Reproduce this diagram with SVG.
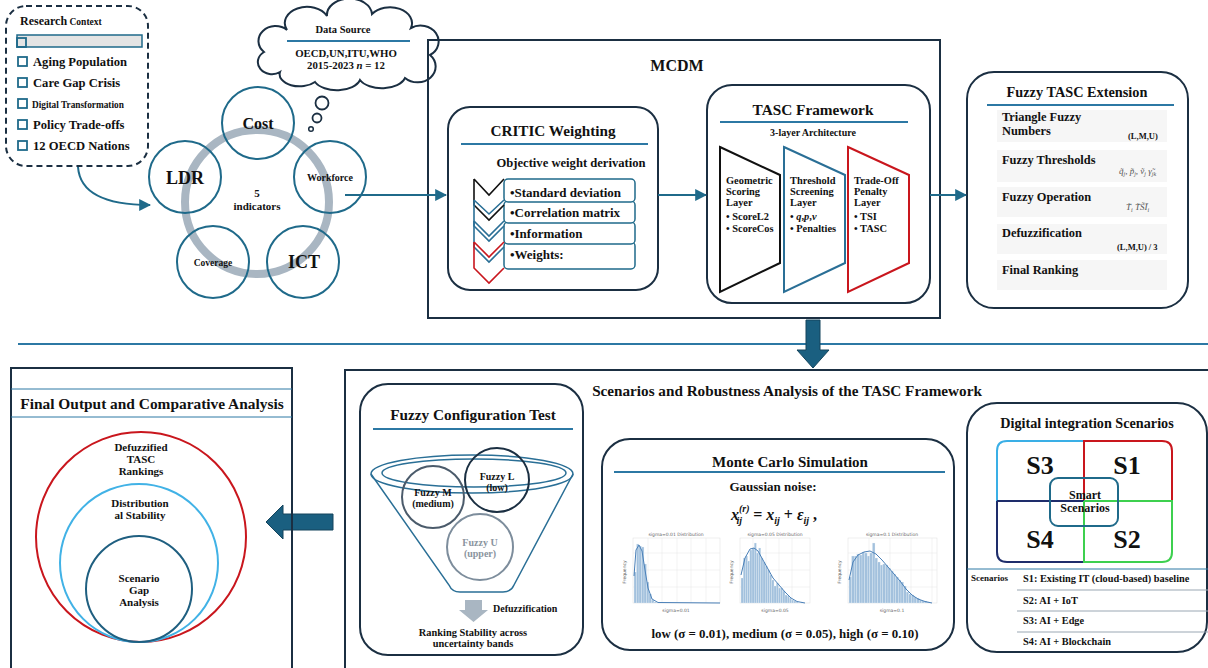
<svg xmlns="http://www.w3.org/2000/svg" width="1208" height="668" viewBox="0 0 1208 668">
<style>
.t{font-family:'Liberation Serif','Times New Roman',serif;font-weight:bold;fill:#111}
.c{text-anchor:middle}
.box{fill:none;stroke:#1b2f42;stroke-width:2}
.rbox{fill:#fff;stroke:#1b2f42;stroke-width:2}
.ul{stroke:#2c78a4;stroke-width:2}
.ind{fill:none;stroke:#1f6a8a;stroke-width:2}
.conn{fill:none;stroke:#1f6a8a;stroke-width:2}
.sq{fill:none;stroke:#1f6a8a;stroke-width:1.8}
.row{fill:#fff;stroke:#1f6a8a;stroke-width:1.5}
.bar{fill:#a3c1dd;stroke:#e8f0f8;stroke-width:0.3}
.kde{fill:none;stroke:#4a80b8;stroke-width:1}
.grid{stroke:#e6e6e6;stroke-width:0.5}
.tiny{font-family:'DejaVu Sans',sans-serif;font-size:4.5px;fill:#666}
.fbg{fill:#f6f6f6}
.sline{stroke:#9aa7b3;stroke-width:1}
</style>
<defs>
<marker id="arr" viewBox="0 0 10 10" refX="9" refY="5" markerWidth="6" markerHeight="6" orient="auto"><path d="M0,0 L10,5 L0,10 z" fill="#1f6a8a"/></marker>
</defs>

<!-- Research Context -->
<g id="research">
<rect x="6" y="6" width="142" height="160" rx="20" fill="#fff" stroke="#1b2f42" stroke-width="2" stroke-dasharray="6,4"/>
<text class="t" x="20" y="25"><tspan font-size="12">Research</tspan><tspan font-size="9.5"> Context</tspan></text>
<rect x="17" y="35" width="125" height="12" fill="#e4e4e4" stroke="#1f6a8a" stroke-width="1.5"/>
<rect x="17" y="38" width="9" height="9" class="sq"/>
<rect x="18" y="57" width="9" height="9" class="sq"/><text class="t" x="33" y="66" font-size="12.6">Aging Population</text>
<rect x="18" y="78" width="9" height="9" class="sq"/><text class="t" x="33" y="87" font-size="12.6">Care Gap Crisis</text>
<rect x="18" y="99" width="9" height="9" class="sq"/><text class="t" x="32" y="108" font-size="9.3">Digital Transformation</text>
<rect x="18" y="120" width="9" height="9" class="sq"/><text class="t" x="33" y="129" font-size="12.6">Policy Trade-offs</text>
<rect x="18" y="141" width="9" height="9" class="sq"/><text class="t" x="33" y="150" font-size="12.6">12 OECD Nations</text>
</g>

<!-- Data source cloud -->
<g id="datasource">
<path d="M280,72 A14,12 0 0 1 264,52 A16,14 0 0 1 287,30 A22,16 0 0 1 327,16 A22,16 0 0 1 372,14 A22,16 0 0 1 411,28 A16,14 0 0 1 430,55 A16,14 0 0 1 405,78 A24,14 0 0 1 360,80 A24,14 0 0 1 315,82 A20,12 0 0 1 280,72 Z" fill="#fff" stroke="#1b2f42" stroke-width="2"/>
<text class="t c" x="343" y="33" font-size="10.5">Data Source</text>
<line x1="287" y1="41" x2="410" y2="41" class="ul"/>
<text class="t c" x="346" y="57" font-size="10.8">OECD,UN,ITU,WHO</text>
<text class="t c" x="346" y="69" font-size="10.8">2015-2023 <tspan font-style="italic">n</tspan> = 12</text>
<circle cx="322" cy="103" r="6.5" fill="#fff" stroke="#1b2f42" stroke-width="1.8"/>
<circle cx="317" cy="118" r="4.5" fill="#fff" stroke="#1b2f42" stroke-width="1.8"/>
<circle cx="311" cy="129" r="2.3" fill="#fff" stroke="#1b2f42" stroke-width="1.5"/>
</g>

<!-- Indicators -->
<g id="indicators">
<circle cx="257" cy="202" r="72" fill="none" stroke="#a9b6c2" stroke-width="8"/>
<circle cx="258" cy="123" r="36" class="ind"/>
<circle cx="330" cy="177" r="36" class="ind"/>
<circle cx="185" cy="177" r="36" class="ind"/>
<circle cx="213" cy="262" r="36" class="ind"/>
<circle cx="303" cy="262" r="36" class="ind"/>
<text class="t c" x="258" y="129" font-size="16">Cost</text>
<text class="t c" x="330" y="181" font-size="10">Workforce</text>
<text class="t c" x="185" y="184" font-size="18">LDR</text>
<text class="t c" x="213" y="266" font-size="9.5">Coverage</text>
<text class="t c" x="304" y="268" font-size="18">ICT</text>
<text class="t c" x="257" y="197" font-size="11">5</text>
<text class="t c" x="257" y="210" font-size="11">indicators</text>
</g>

<!-- MCDM container -->
<g id="mcdm">
<rect x="428" y="40" width="512" height="278" class="box"/>
<text class="t c" x="677" y="71" font-size="16">MCDM</text>
</g>

<!-- CRITIC -->
<g id="critic">
<rect x="448" y="107" width="210" height="183" rx="22" class="rbox"/>
<text class="t c" x="553" y="136" font-size="15.2">CRITIC Weighting</text>
<line x1="461" y1="144" x2="648" y2="144" class="ul"/>
<text class="t c" x="571" y="167" font-size="12.6">Objective weight derivation</text>
<rect x="504" y="242" width="131" height="27" rx="4" class="row"/>
<rect x="504" y="222" width="131" height="22" rx="4" class="row"/>
<rect x="504" y="201" width="131" height="22" rx="4" class="row"/>
<rect x="504" y="179" width="131" height="23" rx="4" class="row"/>
<text class="t" x="510" y="197" font-size="13">•Standard deviation</text>
<text class="t" x="510" y="217" font-size="13">•Correlation matrix</text>
<text class="t" x="510" y="238" font-size="13">•Information</text>
<text class="t" x="510" y="259" font-size="13">•Weights:</text>
<path d="M474,179 L489,195 L504,179 M474,179 V205 L489,220 L504,205" fill="none" stroke="#111" stroke-width="1.6"/>
<path d="M474,200 L489,214 L504,200 M474,200 V226 L489,241 L504,226" fill="none" stroke="#2a6f96" stroke-width="1.6"/>
<path d="M474,221 L489,236 L504,221 M474,221 V247 L489,262 L504,247" fill="none" stroke="#2a6f96" stroke-width="1.6"/>
<path d="M474,242 L489,257 L504,242 M474,242 V268 L489,283 L504,268" fill="none" stroke="#c9161d" stroke-width="1.6"/>
</g>

<!-- TASC -->
<g id="tasc">
<rect x="707" y="85" width="223" height="218" rx="25" class="rbox"/>
<text class="t c" x="813" y="115" font-size="15.3">TASC Framework</text>
<line x1="720" y1="122" x2="908" y2="122" class="ul"/>
<text class="t c" x="813" y="136" font-size="10">3-layer Architecture</text>
<polygon points="720,147 780,175 780,263 720,292" fill="none" stroke="#111" stroke-width="2"/>
<polygon points="784,147 845,175 845,263 784,292" fill="none" stroke="#2a6f96" stroke-width="2"/>
<polygon points="848,147 909,175 909,263 848,292" fill="none" stroke="#c9161d" stroke-width="2"/>
<g class="t" font-size="10.4">
<text x="726" y="184">Geometric</text><text x="726" y="195">Scoring</text><text x="726" y="206">Layer</text>
<text x="726" y="220">• ScoreL2</text><text x="726" y="232">• ScoreCos</text>
<text x="790" y="184">Threshold</text><text x="790" y="195">Screening</text><text x="790" y="206">Layer</text>
<text x="790" y="220">• <tspan font-style="italic">q</tspan>,<tspan font-style="italic">p</tspan>,<tspan font-style="italic">v</tspan></text><text x="790" y="232">• Penalties</text>
<text x="854" y="184">Trade-Off</text><text x="854" y="195">Penalty</text><text x="854" y="206">Layer</text>
<text x="854" y="220">• TSI</text><text x="854" y="232">• TASC</text>
</g>
</g>

<!-- Fuzzy TASC Extension -->
<g id="fuzzytasc">
<rect x="967" y="72" width="221" height="236" rx="27" class="rbox"/>
<text class="t c" x="1077" y="97" font-size="14.3">Fuzzy TASC Extension</text>
<line x1="987" y1="105" x2="1174" y2="105" class="ul"/>
<rect x="997" y="110" width="170" height="32" class="fbg"/>
<rect x="997" y="150" width="170" height="32" class="fbg"/>
<rect x="997" y="187" width="170" height="30" class="fbg"/>
<rect x="997" y="224" width="170" height="30" class="fbg"/>
<rect x="997" y="260" width="170" height="30" class="fbg"/>
<g class="t" font-size="12.4">
<text x="1002" y="121">Triangle Fuzzy</text>
<text x="1002" y="135">Numbers</text>
<text x="1002" y="164">Fuzzy Thresholds</text>
<text x="1002" y="201">Fuzzy Operation</text>
<text x="1002" y="237">Defuzzification</text>
<text x="1002" y="274">Final Ranking</text>
</g>
<text class="t" x="1128" y="139" font-size="8.5">(L,M,U)</text>
<text class="t" x="1117" y="250" font-size="8.5">(L,M,U) / 3</text>
<text x="1119" y="174" font-family="'Liberation Serif',serif" font-style="italic" font-size="9" fill="#555">q̃<tspan font-size="6" dy="2">j</tspan><tspan dy="-2">, p̃</tspan><tspan font-size="6" dy="2">j</tspan><tspan dy="-2">, ṽ</tspan><tspan font-size="6" dy="2">j</tspan><tspan dy="-2">  γ̃</tspan><tspan font-size="6" dy="2">jk</tspan></text>
<text x="1126" y="210" font-family="'Liberation Serif',serif" font-style="italic" font-size="9" fill="#555">T̃<tspan font-size="6" dy="2">i</tspan><tspan dy="-2">   T̃S̃Ĩ</tspan><tspan font-size="6" dy="2">i</tspan></text>
</g>

<!-- Top connectors -->
<g id="connectors">
<path d="M78,167 C80,195 110,205 150,205" class="conn" marker-end="url(#arr)"/>
<line x1="345" y1="195" x2="446" y2="195" class="conn" marker-end="url(#arr)"/>
<line x1="658" y1="195" x2="706" y2="195" class="conn" marker-end="url(#arr)"/>
<line x1="930" y1="195" x2="966" y2="195" class="conn" marker-end="url(#arr)"/>
<line x1="18" y1="344" x2="1208" y2="344" stroke="#2c78a4" stroke-width="2"/>
<path d="M806,320 H820 V350 H829 L813,368 L797,350 H806 Z" fill="#1a5f80" stroke="#14445c" stroke-width="1"/>
<path d="M266,522 L283,505 V514 H333 V530 H283 V539 Z" fill="#1a5f80" stroke="#14445c" stroke-width="1"/>
</g>

<!-- Final Output -->
<g id="finaloutput">
<rect x="11" y="368" width="281" height="310" class="box"/>
<line x1="11" y1="389" x2="292" y2="389" stroke="#2c78a4" stroke-width="1"/>
<line x1="11" y1="417" x2="292" y2="417" stroke="#2c78a4" stroke-width="1"/>
<text class="t c" x="152" y="409" font-size="15.4">Final Output and Comparative Analysis</text>
<circle cx="141" cy="537" r="105" fill="none" stroke="#c9161d" stroke-width="2"/>
<circle cx="139" cy="563" r="79" fill="none" stroke="#41b2e6" stroke-width="2"/>
<circle cx="139" cy="589" r="53" fill="none" stroke="#1f5f80" stroke-width="2"/>
<g class="t c" font-size="11">
<text x="141" y="451">Defuzzified</text><text x="141" y="463">TASC</text><text x="141" y="475">Rankings</text>
<text x="140" y="507">Distribution</text><text x="140" y="519">al Stability</text>
<text x="139" y="582">Scenario</text><text x="139" y="594">Gap</text><text x="139" y="606">Analysis</text>
</g>
</g>

<!-- Scenarios container -->
<g id="scenarios">
<rect x="345" y="370" width="875" height="310" class="box"/>
<text class="t c" x="787" y="396" font-size="15.2">Scenarios and Robustness Analysis of the TASC Framework</text>
</g>

<!-- Fuzzy Configuration Test -->
<g id="fuzzyconfig">
<rect x="360" y="384" width="223" height="271" rx="28" class="rbox"/>
<text class="t c" x="473" y="420" font-size="15.3">Fuzzy Configuration Test</text>
<line x1="373" y1="429" x2="573" y2="429" class="ul"/>
<path d="M371,474 L449,585 Q452,592 460,592 L503,592 Q511,592 514,585 L573,474" fill="none" stroke="#2a6f96" stroke-width="1.5"/>
<ellipse cx="472" cy="474" rx="101" ry="19" fill="none" stroke="#2a6f96" stroke-width="1.5"/>
<ellipse cx="474" cy="473" rx="92" ry="14" fill="none" stroke="#2a6f96" stroke-width="1.5"/>
<circle cx="433" cy="497" r="31" fill="none" stroke="#4b5b6b" stroke-width="2"/>
<circle cx="497" cy="480" r="32" fill="none" stroke="#1b2f42" stroke-width="2"/>
<circle cx="480" cy="547" r="33" fill="none" stroke="#7d8d9c" stroke-width="2"/>
<g class="t c" font-size="10">
<text x="433" y="496">Fuzzy M</text><text x="433" y="507">(medium)</text>
<text x="497" y="480">Fuzzy L</text><text x="497" y="491">(low)</text>
<text x="480" y="546" fill="#8a949e">Fuzzy U</text><text x="480" y="557" fill="#8a949e">(upper)</text>
</g>
<path d="M465,600 H482 V610 H488 L473.5,622 L459,610 H465 Z" fill="#a9b6c2"/>
<text class="t" x="493" y="612" font-size="10">Defuzzification</text>
<text class="t c" x="473" y="636" font-size="10.4">Ranking Stability across</text>
<text class="t c" x="473" y="647" font-size="10.4">uncertainty bands</text>
</g>

<!-- Monte Carlo -->
<g id="montecarlo">
<rect x="602" y="439" width="352" height="211" rx="28" class="rbox"/>
<text class="t c" x="790" y="467" font-size="15">Monte Carlo Simulation</text>
<line x1="614" y1="472" x2="945" y2="472" class="ul"/>
<text class="t c" x="773" y="491" font-size="13">Gaussian noise:</text>
<text class="t" x="731" y="520" font-size="16" font-style="italic">x<tspan font-size="10" dy="-8">(r)</tspan><tspan font-size="10" dx="-13" dy="12">ij</tspan><tspan dx="7" dy="-4" font-style="normal"> = </tspan>x<tspan font-size="10" dy="4">ij</tspan><tspan dy="-4" font-style="normal"> + </tspan>ε<tspan font-size="10" dy="4">ij</tspan><tspan dy="-4" font-style="normal"> ,</tspan></text>

<!-- chart 1 -->
<g>
<rect x="633" y="538" width="87" height="65" fill="#fff" stroke="#ddd" stroke-width="0.5"/>
<line x1="633" y1="587" x2="720" y2="587" class="grid"/><line x1="633" y1="570" x2="720" y2="570" class="grid"/><line x1="633" y1="553" x2="720" y2="553" class="grid"/>
<line x1="648" y1="538" x2="648" y2="603" class="grid"/><line x1="662" y1="538" x2="662" y2="603" class="grid"/><line x1="677" y1="538" x2="677" y2="603" class="grid"/><line x1="691" y1="538" x2="691" y2="603" class="grid"/><line x1="706" y1="538" x2="706" y2="603" class="grid"/>
<rect class="bar" x="634" y="572" width="2.5" height="31"/><rect class="bar" x="636.5" y="544" width="2.5" height="59"/><rect class="bar" x="639" y="546" width="2.5" height="57"/><rect class="bar" x="641.5" y="547" width="2.5" height="56"/><rect class="bar" x="644" y="564" width="2.5" height="39"/><rect class="bar" x="646.5" y="582" width="2.5" height="21"/><rect class="bar" x="649" y="594" width="2.5" height="9"/><rect class="bar" x="651.5" y="600" width="2.5" height="3"/><rect class="bar" x="654" y="602" width="2.5" height="1"/>
<polyline class="kde" points="634,576 636,550 639,545 642,551 645,570 648,588 652,599 658,602.5 720,603"/>
<text class="tiny c" x="676" y="536">sigma=0.01 Distribution</text>
<text class="tiny c" x="676" y="612">sigma=0.01</text>
<text class="tiny c" transform="translate(626,572) rotate(-90)">Frequency</text>
</g>
<!-- chart 2 -->
<g>
<rect x="740" y="538" width="70" height="65" fill="#fff" stroke="#ddd" stroke-width="0.5"/>
<line x1="740" y1="587" x2="810" y2="587" class="grid"/><line x1="740" y1="570" x2="810" y2="570" class="grid"/><line x1="740" y1="553" x2="810" y2="553" class="grid"/>
<line x1="753" y1="538" x2="753" y2="603" class="grid"/><line x1="766" y1="538" x2="766" y2="603" class="grid"/><line x1="779" y1="538" x2="779" y2="603" class="grid"/><line x1="792" y1="538" x2="792" y2="603" class="grid"/>
<rect class="bar" x="741" y="578" width="2.2" height="25"/><rect class="bar" x="743.2" y="558" width="2.2" height="45"/><rect class="bar" x="745.4" y="556" width="2.2" height="47"/><rect class="bar" x="747.6" y="561" width="2.2" height="42"/><rect class="bar" x="749.8" y="550" width="2.2" height="53"/><rect class="bar" x="752" y="548" width="2.2" height="55"/><rect class="bar" x="754.2" y="543" width="2.2" height="60"/><rect class="bar" x="756.4" y="553" width="2.2" height="50"/><rect class="bar" x="758.6" y="548" width="2.2" height="55"/><rect class="bar" x="760.8" y="558" width="2.2" height="45"/><rect class="bar" x="763" y="562" width="2.2" height="41"/><rect class="bar" x="765.2" y="566" width="2.2" height="37"/><rect class="bar" x="767.4" y="570" width="2.2" height="33"/><rect class="bar" x="769.6" y="575" width="2.2" height="28"/><rect class="bar" x="771.8" y="580" width="2.2" height="23"/><rect class="bar" x="774" y="586" width="2.2" height="17"/><rect class="bar" x="776.2" y="583" width="2.2" height="20"/><rect class="bar" x="778.4" y="588" width="2.2" height="15"/><rect class="bar" x="780.6" y="588" width="2.2" height="15"/><rect class="bar" x="782.8" y="591" width="2.2" height="12"/><rect class="bar" x="785" y="595" width="2.2" height="8"/><rect class="bar" x="787.2" y="596" width="2.2" height="7"/><rect class="bar" x="789.4" y="598" width="2.2" height="5"/><rect class="bar" x="791.6" y="600" width="2.2" height="3"/><rect class="bar" x="793.8" y="601" width="2.2" height="2"/><rect class="bar" x="796" y="602" width="2.2" height="1"/><rect class="bar" x="801" y="602" width="2.2" height="1"/>
<polyline class="kde" points="741,575 745,558 750,549 754,548 758,551 763,560 768,569 773,578 779,585 785,592 791,598 797,601.5 805,603"/>
<text class="tiny c" x="775" y="536">sigma=0.05 Distribution</text>
<text class="tiny c" x="775" y="612">sigma=0.05</text>
<text class="tiny c" transform="translate(733,572) rotate(-90)">Frequency</text>
</g>
<!-- chart 3 -->
<g>
<rect x="848" y="538" width="89" height="65" fill="#fff" stroke="#ddd" stroke-width="0.5"/>
<line x1="848" y1="587" x2="937" y2="587" class="grid"/><line x1="848" y1="570" x2="937" y2="570" class="grid"/><line x1="848" y1="553" x2="937" y2="553" class="grid"/>
<line x1="869" y1="538" x2="869" y2="603" class="grid"/><line x1="890" y1="538" x2="890" y2="603" class="grid"/><line x1="911" y1="538" x2="911" y2="603" class="grid"/><line x1="932" y1="538" x2="932" y2="603" class="grid"/>
<rect class="bar" x="849" y="577" width="2.6" height="26"/><rect class="bar" x="851.6" y="556" width="2.6" height="47"/><rect class="bar" x="854.2" y="556" width="2.6" height="47"/><rect class="bar" x="856.8" y="554" width="2.6" height="49"/><rect class="bar" x="859.4" y="555" width="2.6" height="48"/><rect class="bar" x="862" y="552" width="2.6" height="51"/><rect class="bar" x="864.6" y="553" width="2.6" height="50"/><rect class="bar" x="867.2" y="556" width="2.6" height="47"/><rect class="bar" x="869.8" y="553" width="2.6" height="50"/><rect class="bar" x="872.4" y="543" width="2.6" height="60"/><rect class="bar" x="875" y="558" width="2.6" height="45"/><rect class="bar" x="877.6" y="562" width="2.6" height="41"/><rect class="bar" x="880.2" y="565" width="2.6" height="38"/><rect class="bar" x="882.8" y="564" width="2.6" height="39"/><rect class="bar" x="885.4" y="565" width="2.6" height="38"/><rect class="bar" x="888" y="568" width="2.6" height="35"/><rect class="bar" x="890.6" y="571" width="2.6" height="32"/><rect class="bar" x="893.2" y="574" width="2.6" height="29"/><rect class="bar" x="895.8" y="577" width="2.6" height="26"/><rect class="bar" x="898.4" y="580" width="2.6" height="23"/><rect class="bar" x="901" y="582" width="2.6" height="21"/><rect class="bar" x="903.6" y="586" width="2.6" height="17"/><rect class="bar" x="906.2" y="592" width="2.6" height="11"/><rect class="bar" x="908.8" y="594" width="2.6" height="9"/><rect class="bar" x="911.4" y="595" width="2.6" height="8"/><rect class="bar" x="914" y="597" width="2.6" height="6"/><rect class="bar" x="916.6" y="598" width="2.6" height="5"/><rect class="bar" x="919.2" y="600" width="2.6" height="3"/><rect class="bar" x="921.8" y="601" width="2.6" height="2"/><rect class="bar" x="924.4" y="601" width="2.6" height="2"/><rect class="bar" x="927" y="602" width="2.6" height="1"/>
<polyline class="kde" points="849,580 853,562 858,555 864,552 870,551 876,554 882,560 888,567 894,574 900,581 906,589 912,595 918,599 925,601.5 932,603"/>
<text class="tiny c" x="892" y="536">sigma=0.1 Distribution</text>
<text class="tiny c" x="892" y="612">sigma=0.1</text>
<text class="tiny c" transform="translate(841,572) rotate(-90)">Frequency</text>
</g>
<text class="t c" x="785" y="638" font-size="12.9">low (σ = 0.01), medium  (σ = 0.05), high  (σ = 0.10)</text>
</g>

<!-- Digital integration scenarios -->
<g id="digital">
<rect x="967" y="403" width="240" height="249" rx="30" class="rbox"/>
<text class="t c" x="1087" y="428" font-size="14.2">Digital integration Scenarios</text>
<path d="M997,501 V451 Q997,441 1007,441 H1084" fill="none" stroke="#3aafe6" stroke-width="2"/>
<path d="M1084,501 V441 H1162 Q1172,441 1172,451 V501" fill="none" stroke="#c9161d" stroke-width="2"/>
<path d="M997,501 V552 Q997,562 1007,562 H1084 M997,501 H1084" fill="none" stroke="#1e2d6b" stroke-width="2"/>
<path d="M1084,501 H1172 V552 Q1172,562 1162,562 H1084 V501" fill="none" stroke="#3dd04f" stroke-width="2"/>
<rect x="1050" y="478" width="68" height="48" rx="8" fill="none" stroke="#1f6a8a" stroke-width="2"/>
<g class="t c" font-size="26">
<text x="1040" y="474">S3</text><text x="1127" y="474">S1</text>
<text x="1040" y="548">S4</text><text x="1127" y="548">S2</text>
</g>
<text class="t c" x="1085" y="499" font-size="12">Smart</text>
<text class="t c" x="1085" y="512" font-size="12">Scenarios</text>
<line x1="967" y1="569" x2="1208" y2="569" stroke="#2c78a4" stroke-width="1"/>
<line x1="1017" y1="590" x2="1208" y2="590" class="sline"/>
<line x1="1017" y1="611" x2="1208" y2="611" class="sline"/>
<line x1="1017" y1="632" x2="1208" y2="632" class="sline"/>
<text class="t" x="971" y="581" font-size="9">Scenarios</text>
<g class="t" font-size="10.3">
<text x="1023" y="582">S1: Existing IT (cloud-based) baseline</text>
<text x="1023" y="604">S2: AI + IoT</text>
<text x="1023" y="624">S3: AI + Edge</text>
<text x="1023" y="645">S4: AI + Blockchain</text>
</g>
</g>
</svg>
